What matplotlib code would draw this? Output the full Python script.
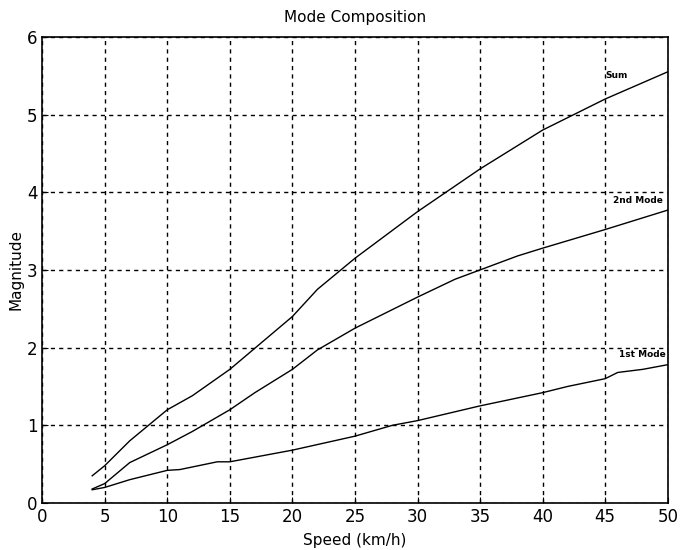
import matplotlib
matplotlib.use('Agg')
import matplotlib.pyplot as plt

# speed (km/h) sample points
speed_sum = [4, 5, 7, 10, 12, 15, 20, 22, 25, 30, 35, 37, 40, 45, 50]
mag_sum = [0.35, 0.48, 0.80, 1.20, 1.38, 1.72, 2.40, 2.75, 3.15, 3.75, 4.30, 4.50, 4.80, 5.20, 5.55]

speed_2nd = [4, 5, 7, 10, 12, 15, 17, 20, 22, 25, 30, 33, 35, 38, 40, 45, 50]
mag_2nd = [0.18, 0.25, 0.52, 0.75, 0.92, 1.20, 1.42, 1.72, 1.97, 2.25, 2.65, 2.88, 3.00, 3.18, 3.28, 3.52, 3.77]

speed_1st = [4, 5, 7, 10, 11, 14, 15, 20, 25, 28, 30, 35, 40, 42, 45, 46, 48, 50]
mag_1st = [0.17, 0.20, 0.30, 0.42, 0.43, 0.53, 0.53, 0.68, 0.86, 1.00, 1.06, 1.25, 1.42, 1.50, 1.60, 1.68, 1.72, 1.78]

labels = ['Sum', '2nd Mode', '1st Mode']
label_pos = [(45.0, 5.45), (45.6, 3.83), (46.1, 1.85)]

fig = plt.figure(figsize=(6.8, 5.5), dpi=100)
ax = fig.add_axes([0.062, 0.0855, 0.920, 0.8475])

for xs, ys in [(speed_sum, mag_sum), (speed_2nd, mag_2nd), (speed_1st, mag_1st)]:
    ax.plot(xs, ys, color='black', linewidth=1.0)

for txt, (tx, ty) in zip(labels, label_pos):
    ax.text(tx, ty, txt, fontsize=6.5, fontweight='bold', ha='left', va='bottom')

ax.set_xlim(0, 50)
ax.set_ylim(0, 6)
ax.set_xticks(range(0, 51, 5))
ax.set_yticks(range(0, 7))
ax.set_axisbelow(True)
ax.grid(True, color='black', linestyle=(0, (3, 3)), linewidth=1.0)
ax.tick_params(direction='in', labelsize=12, length=4, color='black')
for s in ax.spines.values():
    s.set_linewidth(1.2)

ax.set_title('Mode Composition', fontsize=11, pad=11)
ax.set_xlabel('Speed (km/h)', fontsize=11, labelpad=5)
ax.set_ylabel('Magnitude', fontsize=11, labelpad=2)

fig.savefig('out.png', dpi=100)
